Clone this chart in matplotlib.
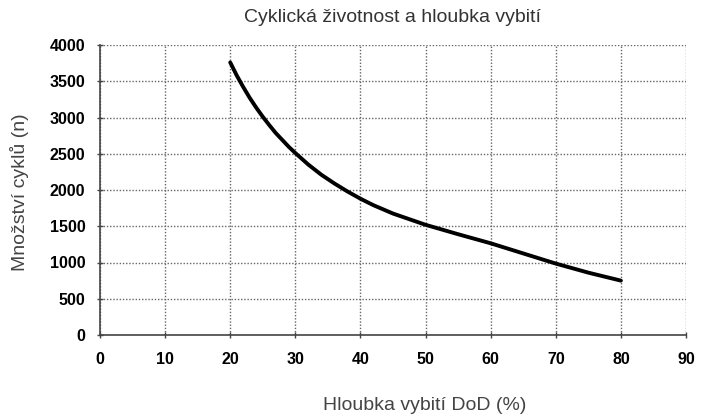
import matplotlib
matplotlib.use("Agg")
import matplotlib.pyplot as plt

dod = [20, 21, 22, 23, 24, 25, 26, 27, 28, 29, 30, 32, 34, 36, 38, 40, 42, 45, 50, 55, 60, 65, 70, 75, 80]
cycles = [3760, 3580, 3420, 3270, 3135, 3010, 2895, 2785, 2690, 2595, 2510, 2350, 2210, 2090, 1980,
          1880, 1790, 1675, 1520, 1390, 1265, 1125, 985, 860, 750]
x_ticks = [0, 10, 20, 30, 40, 50, 60, 70, 80, 90]
y_ticks = [0, 500, 1000, 1500, 2000, 2500, 3000, 3500, 4000]
title = "Cyklická životnost a hloubka vybití"
xlabel = "Hloubka vybití DoD (%)"
ylabel = "Množství cyklů (n)"

fam = ['Liberation Sans', 'DejaVu Sans']
fig = plt.figure(figsize=(7.02, 4.17), dpi=100)
ax = fig.add_axes([100/702, 1-335/417, 586/702, 290/417])
ax.plot(dod, cycles, color='black', lw=2.8, solid_capstyle='round', solid_joinstyle='round')
ax.set_xlim(0, 90)
ax.set_ylim(0, 4000)
ax.set_xticks(x_ticks)
ax.set_yticks(y_ticks)
ax.grid(True, linestyle=(0, (1, 1.3)), color='#666666', lw=1.0)
for s in ['top', 'right']:
    ax.spines[s].set_visible(False)
for s in ['left', 'bottom']:
    ax.spines[s].set_color('#444444')
    ax.spines[s].set_linewidth(1.2)
ax.tick_params(direction='inout', length=5, width=1, color='#444444')
ax.tick_params(axis='x', pad=10)
ax.tick_params(axis='y', pad=8)
for lab in ax.get_xticklabels() + ax.get_yticklabels():
    lab.set_fontfamily(fam)
    lab.set_fontweight('bold')
    lab.set_fontsize(11.5)
fig.text(392/702, 1-17/417, title, family=fam, fontsize=14, color='#333333',
         ha='center', va='center')
fig.text(425/702, 1-405/417, xlabel, family=fam, fontsize=14, color='#444444',
         ha='center', va='center')
fig.text(20/702, 1-192/417, ylabel, family=fam, fontsize=14, color='#444444',
         ha='center', va='center', rotation=90)
fig.savefig("out.png", dpi=100, facecolor='white')
